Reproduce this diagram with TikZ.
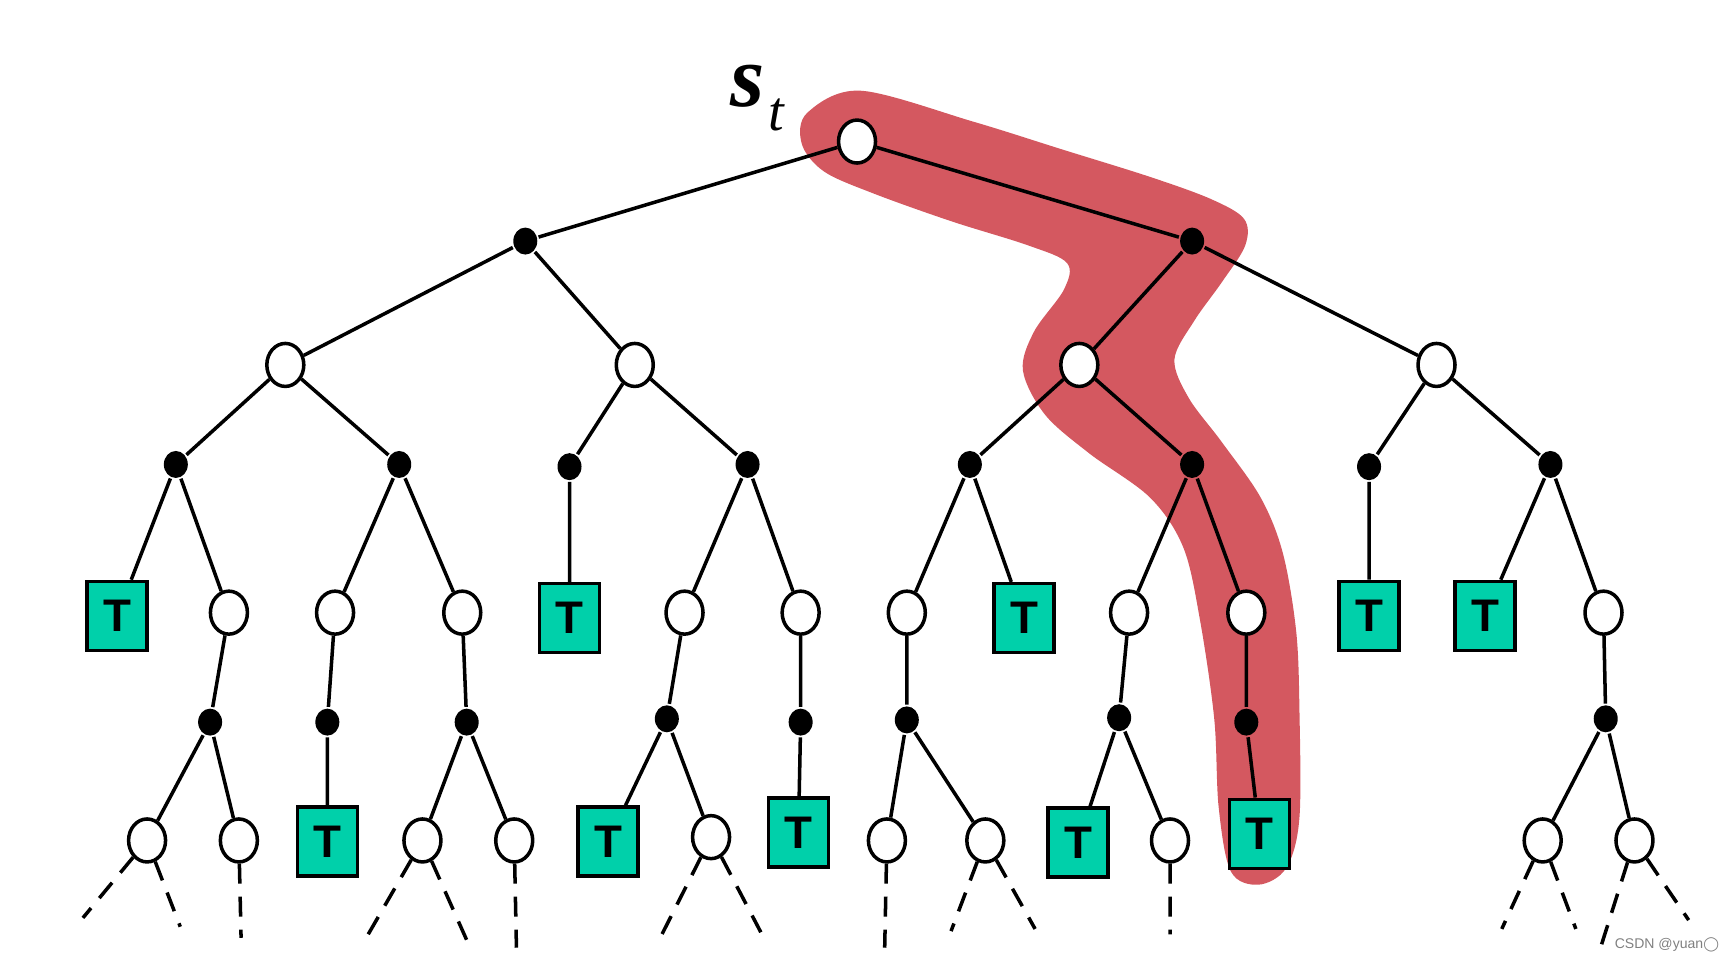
\documentclass[tikz,border=0pt]{standalone}
\usepackage{fontspec}
\setmainfont{Liberation Serif}
\newfontfamily\tsans{Liberation Sans}
\newfontfamily\tsym{DejaVu Sans}
\usetikzlibrary{shapes.geometric}
\definecolor{termgreen}{RGB}{0,208,170}
\definecolor{pathred}{RGB}{212,88,96}

\begin{document}
\begin{tikzpicture}
[x=0.011059cm, y=-0.011059cm,
 line width=1pt,
every node/.style = {align=center}]
\tikzstyle{state} = [ellipse, draw=black, fill=white, minimum width=0.37cm, minimum height=0.43cm, inner sep=0pt]
\tikzstyle{act} = [ellipse, fill=black, minimum width=0.24cm, minimum height=0.27cm, inner sep=0pt]
\tikzstyle{term} = [rectangle, draw=black, fill=termgreen, minimum width=0.60cm, minimum height=0.69cm, inner sep=0pt, font=\tsans\bfseries\fontsize{13}{15}\selectfont]
\tikzstyle{more} = [dash pattern=on 0.2cm off 0.13cm]

\useasboundingbox (0,0) rectangle (1568,869);

\fill[pathred] plot[smooth cycle, tension=0.55] coordinates {
 (778,82) (880,110) (960,135) (1040,160) (1095,180) (1125,198) (1126,222)
 (1105,255) (1080,290) (1062,325) (1075,360) (1105,400) (1140,450) (1160,500)
 (1172,570) (1175,640) (1175,740) (1163,785) (1138,800) (1113,788) (1102,730)
 (1098,650) (1085,560) (1070,495) (1040,450) (985,410) (945,375) (925,335)
 (935,300) (962,262) (965,238) (930,222) (860,200) (790,175) (745,155)
 (725,130) (730,102)};

\node[state] (st) at (775,128) {};
\node[anchor=base west] (stlab) at (648,96)
  {\fontsize{25}{30}\selectfont\textbf{\textit{s}}\hspace{0.04cm}\raisebox{-0.24cm}{\fontsize{16}{20}\selectfont\textit{t}}};

\node[act] (a1) at (475,218) {};
\node[act] (a2) at (1078,218) {};

\node[state] (s21) at (258,330) {};
\node[state] (s22) at (574,330) {};
\node[state] (s23) at (976,330) {};
\node[state] (s24) at (1299,330) {};

\node[act] (a31) at (159,420) {};
\node[act] (a32) at (361,420) {};
\node[act] (a33) at (515,422) {};
\node[act] (a34) at (676,420) {};
\node[act] (a35) at (877,420) {};
\node[act] (a36) at (1078,420) {};
\node[act] (a37) at (1238,422) {};
\node[act] (a38) at (1402,420) {};

\node[term] (t41) at (106,557) {T};
\node[state] (s41) at (207,554) {};
\node[state] (s42) at (303,554) {};
\node[state] (s43) at (418,554) {};
\node[term] (t42) at (515,559) {T};
\node[state] (s44) at (619,554) {};
\node[state] (s45) at (724,554) {};
\node[state] (s46) at (820,554) {};
\node[term] (t43) at (926,559) {T};
\node[state] (s47) at (1021,554) {};
\node[state] (s48) at (1127,554) {};
\node[term] (t44) at (1238,557) {T};
\node[term] (t45) at (1343,557) {T};
\node[state] (s49) at (1450,554) {};

\node[act] (a51) at (190,653) {};
\node[act] (a52) at (296,653) {};
\node[act] (a53) at (422,653) {};
\node[act] (a54) at (603,650) {};
\node[act] (a55) at (724,653) {};
\node[act] (a56) at (820,651) {};
\node[act] (a57) at (1012,649) {};
\node[act] (a58) at (1127,653) {};
\node[act] (a59) at (1452,650) {};

\node[state] (s61) at (133,760) {};
\node[state] (s62) at (216,760) {};
\node[term] (t61) at (296,761) {T};
\node[state] (s63) at (382,760) {};
\node[state] (s64) at (465,760) {};
\node[term] (t62) at (550,761) {T};
\node[state] (s65) at (643,757) {};
\node[term] (t63) at (722,753) {T};
\node[state] (s66) at (802,760) {};
\node[state] (s67) at (891,760) {};
\node[term] (t64) at (975,762) {T};
\node[state] (s68) at (1058,760) {};
\node[term] (t65) at (1139,754) {T};
\node[state] (s69) at (1395,760) {};
\node[state] (s610) at (1478,760) {};

\coordinate (e1) at (75,830);
\coordinate (e2) at (163,838);
\coordinate (e3) at (218,848);
\coordinate (e4) at (330,850);
\coordinate (e5) at (422,850);
\coordinate (e6) at (467,857);
\coordinate (e7) at (596,850);
\coordinate (e8) at (688,843);
\coordinate (e9) at (800,857);
\coordinate (e10) at (860,842);
\coordinate (e11) at (936,840);
\coordinate (e12) at (1058,845);
\coordinate (e13) at (1358,840);
\coordinate (e14) at (1425,840);
\coordinate (e15) at (1447,858);
\coordinate (e16) at (1527,832);

\draw (st) -- (a1) (st) -- (a2)
  (a1) -- (s21) (a1) -- (s22) (a2) -- (s23) (a2) -- (s24)
  (s21) -- (a31) (s21) -- (a32) (s22) -- (a33) (s22) -- (a34)
  (s23) -- (a35) (s23) -- (a36) (s24) -- (a37) (s24) -- (a38)
  (a31) -- (t41) (a31) -- (s41) (a32) -- (s42) (a32) -- (s43)
  (a33) -- (t42) (a34) -- (s44) (a34) -- (s45)
  (a35) -- (s46) (a35) -- (t43) (a36) -- (s47) (a36) -- (s48)
  (a37) -- (t44) (a38) -- (t45) (a38) -- (s49)
  (s41) -- (a51) (s42) -- (a52) (s43) -- (a53) (s44) -- (a54) (s45) -- (a55)
  (s46) -- (a56) (s47) -- (a57) (s48) -- (a58) (s49) -- (a59)
  (a51) -- (s61) (a51) -- (s62) (a52) -- (t61) (a53) -- (s63) (a53) -- (s64)
  (a54) -- (t62) (a54) -- (s65) (a55) -- (t63) (a56) -- (s66) (a56) -- (s67)
  (a57) -- (t64) (a57) -- (s68) (a58) -- (t65) (a59) -- (s69) (a59) -- (s610);

\draw[more] (s61) -- (e1) (s61) -- (e2) (s62) -- (e3)
  (s63) -- (e4) (s63) -- (e5) (s64) -- (e6)
  (s65) -- (e7) (s65) -- (e8) (s66) -- (e9)
  (s67) -- (e10) (s67) -- (e11) (s68) -- (e12)
  (s69) -- (e13) (s69) -- (e14) (s610) -- (e15) (s610) -- (e16);

\node[anchor=east, text=gray, inner sep=0pt, font=\tsans\fontsize{4}{5}\selectfont] (mark) at (1556,854) {CSDN @yuan{\tsym ◯}};

\end{tikzpicture}
\end{document}
